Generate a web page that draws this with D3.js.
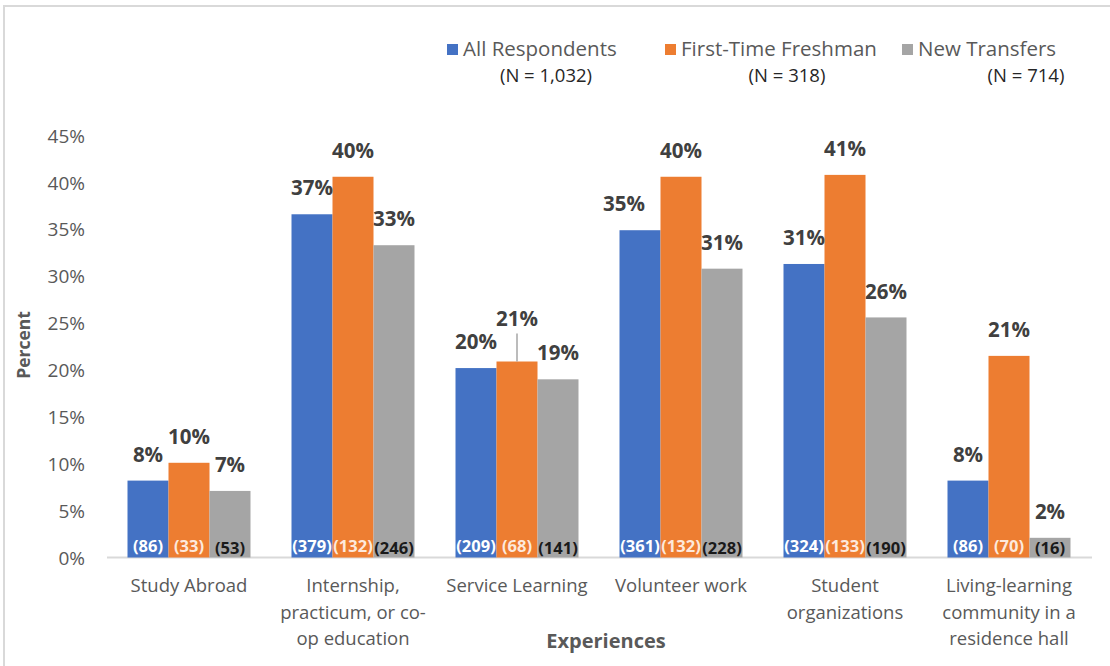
<!DOCTYPE html>
<html>
<head>
<meta charset="utf-8">
<script src="https://cdn.jsdelivr.net/npm/d3@7"></script>
<style>
  html, body { margin: 0; padding: 0; background: #fff; }
  svg { display: block; font-family: "Open Sans", "Noto Sans", sans-serif; }
</style>
</head>
<body>
<svg id="chart" width="1110" height="666"></svg>
<script>
// ---------- data ----------
const categories = ["Study Abroad", "Internship, practicum, or co-op education", "Service Learning", "Volunteer work", "Student organizations", "Living-learning community in a residence hall"];
const categoryLines = [
  ["Study Abroad"],
  ["Internship,", "practicum, or co-", "op education"],
  ["Service Learning"],
  ["Volunteer work"],
  ["Student", "organizations"],
  ["Living-learning", "community in a", "residence hall"]
];
const seriesNames = ["All Respondents", "First-Time Freshman", "New Transfers"];
const seriesN = ["(N = 1,032)", "(N = 318)", "(N = 714)"];
const allRespondents    = [8.2, 36.6, 20.2, 34.9, 31.3, 8.2];
const firstTimeFreshman = [10.1, 40.6, 20.9, 40.6, 40.8, 21.5];
const newTransfers      = [7.1, 33.3, 19.0, 30.8, 25.6, 2.1];
const allLabels   = ["8%", "37%", "20%", "35%", "31%", "8%"];
const freshLabels = ["10%", "40%", "21%", "40%", "41%", "21%"];
const transLabels = ["7%", "33%", "19%", "31%", "26%", "2%"];
const allCounts   = [86, 379, 209, 361, 324, 86];
const freshCounts = [33, 132, 68, 132, 133, 70];
const transCounts = [53, 246, 141, 228, 190, 16];
const yTicks = [0, 5, 10, 15, 20, 25, 30, 35, 40, 45];

const colors = ["#4472C4", "#ED7D31", "#A5A5A5"];
const countColors = ["#ffffff", "#fde9dc", "#1a1a1a"];
const seriesValues = [allRespondents, firstTimeFreshman, newTransfers];
const seriesLabels = [allLabels, freshLabels, transLabels];
const seriesCounts = [allCounts, freshCounts, transCounts];

// ---------- layout ----------
const svg = d3.select("#chart");
const textGray = "#595959";
const labelGray = "#404040";

// chart border
svg.append("rect").attr("x", 4).attr("y", 6).attr("width", 1300).attr("height", 1000)
  .attr("fill", "none").attr("stroke", "#d9d9d9").attr("stroke-width", 2);

const y = d3.scaleLinear().domain([0, 45]).range([557.5, 135.5]);
const x0 = d3.scaleBand().domain(categories).range([107, 1091]).padding(0);
const barW = 41;
const x1 = d3.scaleBand().domain(d3.range(3)).range([0, barW * 3]).padding(0);
const groupOffset = (x0.bandwidth() - barW * 3) / 2;

// y axis (labels only)
const yAxis = d3.axisLeft(y).tickValues(yTicks).tickFormat(d => d + "%").tickSize(0).tickPadding(0);
const yg = svg.append("g").attr("transform", "translate(85,0)").call(yAxis);
yg.select(".domain").remove();
yg.selectAll("text").attr("fill", textGray).attr("font-size", 19)
  .attr("font-family", "'Open Sans', sans-serif").attr("dy", "0.35em");

// x axis line
const xAxis = d3.axisBottom(x0).tickSize(0).tickFormat("");
const xg = svg.append("g").attr("transform", `translate(0,${y(0)})`).call(xAxis);
xg.select(".domain").attr("stroke", "#d9d9d9").attr("stroke-width", 2)
  .attr("d", `M107,0H1092`);

// category labels
categories.forEach((c, i) => {
  const cx = x0(c) + x0.bandwidth() / 2;
  const t = svg.append("text").attr("x", cx).attr("y", 592).attr("text-anchor", "middle")
    .attr("fill", textGray).attr("font-size", 18.5);
  categoryLines[i].forEach((line, j) => {
    t.append("tspan").attr("x", cx).attr("dy", j === 0 ? 0 : 26.5).text(line);
  });
});

// bars
const groups = svg.append("g").selectAll("g").data(categories).join("g")
  .attr("transform", d => `translate(${x0(d) + groupOffset},0)`);

groups.each(function (cat, ci) {
  const g = d3.select(this);
  for (let s = 0; s < 3; s++) {
    const v = seriesValues[s][ci];
    const bx = x1(s);
    g.append("rect").attr("x", bx).attr("y", y(v)).attr("width", x1.bandwidth())
      .attr("height", y(0) - y(v)).attr("fill", colors[s]);
  }
});

// value labels (drawn after bars so they sit on top)
const labelNudge = { "2-1": { dx: 0, dy: -17, leader: true }, "3-0": { dx: -16, dy: 0 } };
groups.each(function (cat, ci) {
  const g = d3.select(this);
  for (let s = 0; s < 3; s++) {
    const v = seriesValues[s][ci];
    const cx = x1(s) + x1.bandwidth() / 2;
    const nudge = labelNudge[ci + "-" + s] || { dx: 0, dy: 0 };
    const ly = y(v) - 26 + nudge.dy;
    if (nudge.leader) {
      g.append("line").attr("x1", cx).attr("x2", cx).attr("y1", ly + 15).attr("y2", y(v))
        .attr("stroke", "#a6a6a6").attr("stroke-width", 1.5);
    }
    g.append("text").attr("x", cx + nudge.dx).attr("y", ly).attr("dy", "0.35em")
      .attr("text-anchor", "middle").attr("font-size", 20.5).attr("font-weight", "bold")
      .attr("fill", labelGray).text(seriesLabels[s][ci]);
    g.append("text").attr("x", cx).attr("y", s === 2 ? 548 : 546).attr("dy", "0.35em")
      .attr("text-anchor", "middle").attr("font-size", 16.5).attr("font-weight", "bold")
      .attr("fill", countColors[s]).text("(" + seriesCounts[s][ci] + ")");
  }
});

// axis titles
svg.append("text").attr("transform", "translate(24,345) rotate(-90)").attr("dy", "0.35em")
  .attr("text-anchor", "middle").attr("font-size", 17.5).attr("font-weight", "bold")
  .attr("fill", textGray).text("Percent");
svg.append("text").attr("x", 606).attr("y", 641).attr("dy", "0.35em")
  .attr("text-anchor", "middle").attr("font-size", 20).attr("font-weight", "bold")
  .attr("fill", textGray).text("Experiences");

// legend
const legendX = [447, 665, 902];
const legendNX = [546, 787, 1026];
seriesNames.forEach((name, i) => {
  svg.append("rect").attr("x", legendX[i]).attr("y", 44).attr("width", 11).attr("height", 11)
    .attr("fill", colors[i]);
  svg.append("text").attr("x", legendX[i] + 16).attr("y", 49).attr("dy", "0.35em")
    .attr("font-size", 20.5).attr("fill", textGray).text(name);
  svg.append("text").attr("x", legendNX[i]).attr("y", 76).attr("dy", "0.35em")
    .attr("text-anchor", "middle").attr("font-size", 18.5).attr("fill", "#262626").text(seriesN[i]);
});
</script>
</body>
</html>
